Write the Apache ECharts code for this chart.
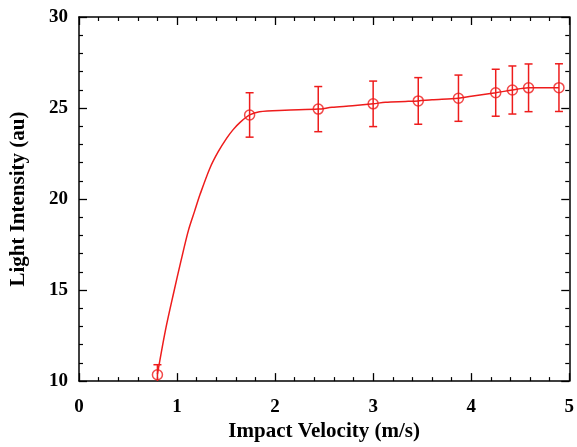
<!DOCTYPE html>
<html>
<head>
<meta charset="utf-8">
<script src="https://cdn.jsdelivr.net/npm/echarts@6/dist/echarts.min.js"></script>
<style>
html,body{margin:0;padding:0;background:#fff;}
#c{width:577px;height:447px;}
</style>
</head>
<body>
<div id="c"></div>
<script>
// measured points
var pointX = [0.80, 1.74, 2.44, 3.00, 3.46, 3.87, 4.25, 4.42, 4.585, 4.895];
var pointY = [10.35, 24.62, 24.94, 25.23, 25.39, 25.54, 25.84, 25.99, 26.11, 26.12];
var pointErr = [0.55, 1.22, 1.24, 1.25, 1.28, 1.27, 1.29, 1.32, 1.31, 1.31];
// fitted curve
var curveX = [0.80, 0.88, 0.965, 1.04, 1.116, 1.18, 1.235, 1.336, 1.42, 1.505, 1.57, 1.64, 1.74, 1.84, 2.1, 2.44, 2.58, 2.79, 3.00, 3.125, 3.33, 3.46, 3.60, 3.87, 4.00, 4.25, 4.42, 4.585, 4.895];
var curveY = [10.38, 12.75, 14.84, 16.6, 18.28, 19.35, 20.26, 21.71, 22.6, 23.33, 23.8, 24.2, 24.62, 24.80, 24.88, 24.94, 25.04, 25.12, 25.23, 25.32, 25.36, 25.39, 25.45, 25.54, 25.65, 25.84, 25.99, 26.11, 26.12];
var xTicks = [0, 1, 2, 3, 4, 5];
var yTicks = [10, 15, 20, 25, 30];

var RED = '#ee1c1c';
var FONT = 'Liberation Serif';

var chart = echarts.init(document.getElementById('c'));
var axisCommonX = {
  type: 'value', min: xTicks[0], max: xTicks[xTicks.length - 1], interval: 1,
  axisLine: {show: true, onZero: false, lineStyle: {color: '#000', width: 1.5}},
  axisTick: {show: true, inside: true, length: 8, lineStyle: {color: '#000', width: 1.3}},
  minorTick: {show: true, splitNumber: 5, length: 4, lineStyle: {color: '#000', width: 1.2}},
  splitLine: {show: false}
};
var axisCommonY = {
  type: 'value', min: yTicks[0], max: yTicks[yTicks.length - 1], interval: 5,
  axisLine: {show: true, onZero: false, lineStyle: {color: '#000', width: 1.5}},
  axisTick: {show: true, inside: true, length: 8, lineStyle: {color: '#000', width: 1.3}},
  minorTick: {show: true, splitNumber: 5, length: 4, lineStyle: {color: '#000', width: 1.2}},
  splitLine: {show: false}
};

var lineData = curveX.map(function (x, i) { return [x, curveY[i]]; });
var ptData = pointX.map(function (x, i) { return [x, pointY[i]]; });
var errData = pointX.map(function (x, i) { return [x, pointY[i] - pointErr[i], pointY[i] + pointErr[i]]; });

chart.setOption({
  animation: false,
  backgroundColor: '#fff',
  grid: {left: 78, right: 5, top: 17, bottom: 61, containLabel: false},
  xAxis: [
    Object.assign({}, axisCommonX, {
      position: 'bottom',
      name: 'Impact Velocity (m/s)', nameLocation: 'middle', nameGap: 37,
      nameTextStyle: {fontFamily: FONT, fontWeight: 'bold', fontSize: 21, color: '#000'},
      axisLabel: {fontFamily: FONT, fontWeight: 'bold', fontSize: 19, color: '#000', margin: 16}
    }),
    Object.assign({}, axisCommonX, {position: 'top', axisLabel: {show: false}})
  ],
  yAxis: [
    Object.assign({}, axisCommonY, {
      position: 'left',
      name: 'Light Intensity (au)', nameLocation: 'middle', nameGap: 50,
      nameTextStyle: {fontFamily: FONT, fontWeight: 'bold', fontSize: 21, color: '#000'},
      axisLabel: {fontFamily: FONT, fontWeight: 'bold', fontSize: 19, color: '#000', margin: 11}
    }),
    Object.assign({}, axisCommonY, {position: 'right', axisLabel: {show: false}})
  ],
  series: [
    {
      type: 'line', data: lineData, smooth: 0.3, showSymbol: false,
      lineStyle: {color: RED, width: 1.5}, z: 2
    },
    {
      type: 'custom', data: errData, clip: true, z: 3,
      renderItem: function (params, api) {
        var x = api.value(0);
        var lo = api.coord([x, api.value(1)]);
        var hi = api.coord([x, api.value(2)]);
        var w = 4;
        var st = {stroke: RED, lineWidth: 1.5};
        return {
          type: 'group',
          children: [
            {type: 'line', shape: {x1: lo[0], y1: lo[1], x2: hi[0], y2: hi[1]}, style: st},
            {type: 'line', shape: {x1: lo[0] - w, y1: lo[1], x2: lo[0] + w, y2: lo[1]}, style: st},
            {type: 'line', shape: {x1: hi[0] - w, y1: hi[1], x2: hi[0] + w, y2: hi[1]}, style: st}
          ]
        };
      }
    },
    {
      type: 'scatter', data: ptData, symbol: 'circle', symbolSize: 10, z: 4,
      itemStyle: {color: 'rgba(0,0,0,0)', borderColor: RED, borderWidth: 1.5}
    }
  ]
});
</script>
</body>
</html>
